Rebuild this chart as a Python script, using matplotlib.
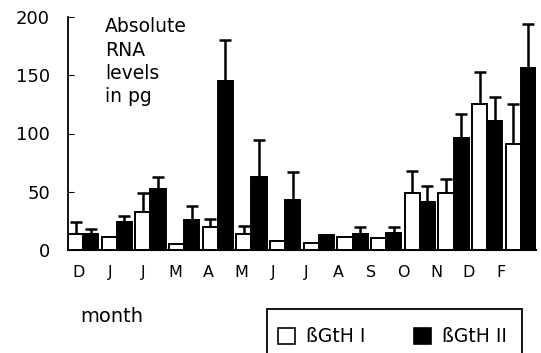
import matplotlib

matplotlib.use("Agg")
import matplotlib.pyplot as plt
import numpy as np
from matplotlib.patches import Patch, Rectangle

months = ["D", "J", "J", "M", "A", "M", "J", "J", "A", "S", "O", "N", "D", "F"]
gth1 = [14, 11, 33, 5, 20, 14, 8, 6, 11, 10, 49, 49, 125, 91]
gth1_err = [10, 0, 16, 0, 7, 7, 0, 0, 0, 0, 19, 12, 28, 34]
gth2 = [14, 24, 52, 26, 145, 63, 43, 13, 14, 15, 41, 96, 111, 156]
gth2_err = [4, 5, 11, 12, 35, 31, 24, 0, 6, 5, 14, 21, 20, 38]
yticks = [0, 50, 100, 150, 200]

fig = plt.figure(figsize=(5.41, 3.53), dpi=100)
ax = fig.add_axes([68 / 541, 1 - 250 / 353, 468 / 541, 233 / 353])

x = np.arange(len(months))
w = 0.45
err_kw = dict(fmt="none", ecolor="black", elinewidth=1.8, capsize=4.5, capthick=1.8)
ax.bar(x - w / 2, gth1, w, color="white", edgecolor="black", linewidth=1.4, zorder=3)
ax.bar(x + w / 2, gth2, w, color="black", edgecolor="black", linewidth=1.4, zorder=3)
ax.errorbar(x - w / 2, gth1, yerr=[np.zeros(len(x)), gth1_err], zorder=2, **err_kw)
ax.errorbar(x + w / 2, gth2, yerr=[np.zeros(len(x)), gth2_err], zorder=2, **err_kw)

ax.set_xlim(-0.45, len(months) - 1 + 0.45)
ax.set_ylim(0, 200)
ax.set_yticks(yticks)
ax.tick_params(axis="y", direction="in", length=4, width=0.8, pad=13, labelsize=13)
ax.set_xticks(x * 0.967 - 0.15)
ax.set_xticklabels(months)
ax.tick_params(axis="x", length=0, pad=11, labelsize=11.5)
for s in ["top", "right"]:
    ax.spines[s].set_visible(False)
ax.spines["left"].set_linewidth(1.3)
ax.spines["bottom"].set_linewidth(1.5)

ax.text(0.079, 1.0, "Absolute\nRNA\nlevels\nin pg", transform=ax.transAxes,
        fontsize=13.5, va="top", ha="left", linespacing=1.3)
fig.text(80 / 541, 1 - 316 / 353, "month", fontsize=14, va="center", ha="left")

# legend box runs off the bottom of the scan
fig.add_artist(Rectangle((267 / 541, -0.05), (522 - 267) / 541, 1 - 309 / 353 + 0.05,
                         transform=fig.transFigure, fill=False, edgecolor="black", linewidth=1.3))
handles = [Patch(facecolor="white", edgecolor="black", linewidth=1.2, label="ßGtH I"),
           Patch(facecolor="black", edgecolor="black", linewidth=1.2, label="ßGtH II")]
fig.legend(handles=handles, loc="center left", bbox_to_anchor=(278 / 541, 1 - 337 / 353),
           ncol=2, fontsize=13.5, frameon=False, borderpad=0, handlelength=0.9,
           handleheight=0.9, handletextpad=0.6, columnspacing=2.6, borderaxespad=0)

fig.savefig("out.png", dpi=100)
